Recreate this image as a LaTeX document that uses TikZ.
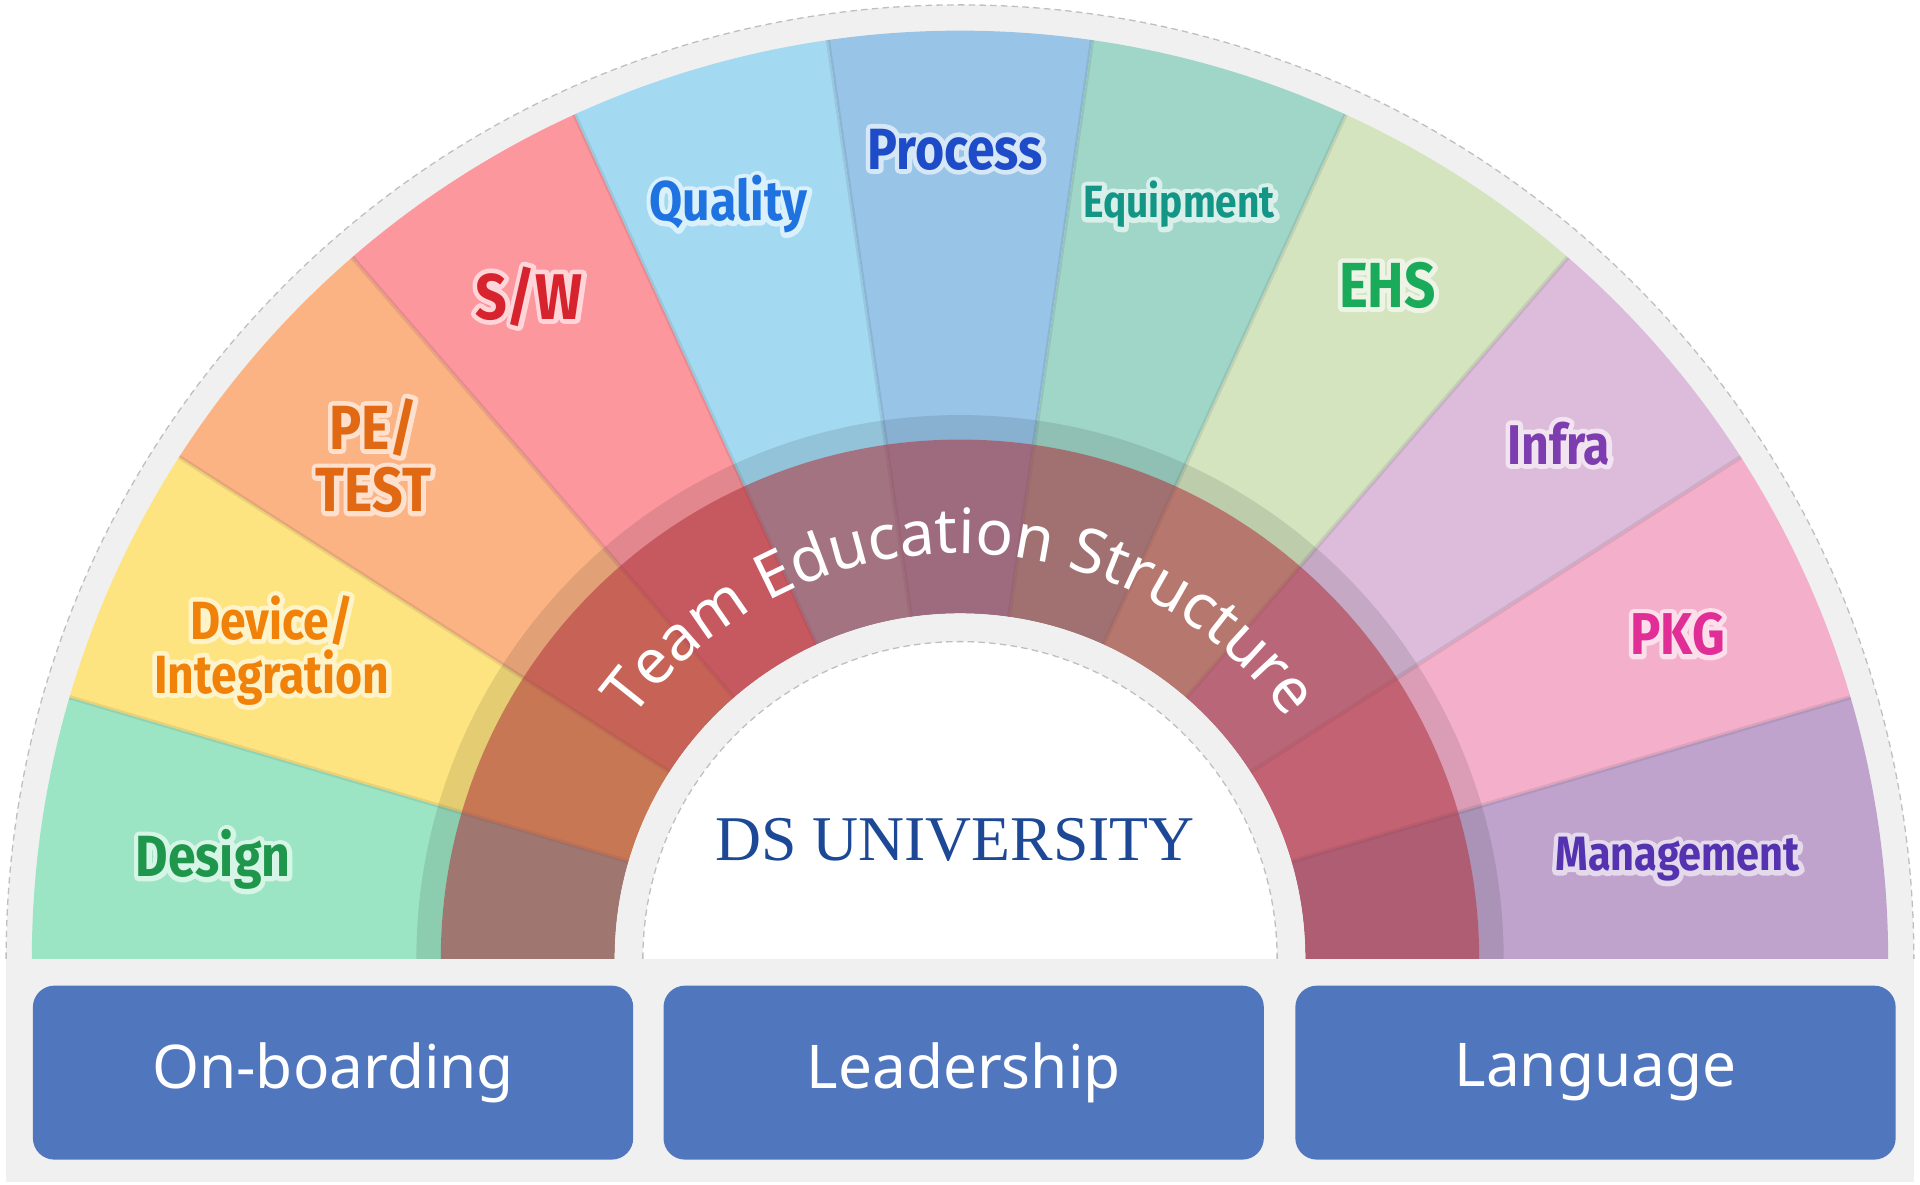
\documentclass[tikz,border=0pt]{standalone}
\usepackage{fontspec}
\setmainfont{Noto Sans}
\newfontfamily\labelfont[FakeStretch=0.86]{Fira Sans}
\newfontfamily\univfont{Liberation Serif}
\usetikzlibrary{decorations.text}

\definecolor{panelgray}{RGB}{240,240,240}
\definecolor{boxblue}{RGB}{80,119,190}
\definecolor{ringred}{RGB}{163,47,56}
\definecolor{univblue}{RGB}{28,72,150}
\definecolor{design}{RGB}{156,229,196}
\definecolor{device}{RGB}{253,228,128}
\definecolor{petest}{RGB}{251,179,131}
\definecolor{sw}{RGB}{252,151,158}
\definecolor{quality}{RGB}{163,218,242}
\definecolor{process}{RGB}{152,196,232}
\definecolor{equipment}{RGB}{160,214,200}
\definecolor{ehs}{RGB}{211,228,191}
\definecolor{infra}{RGB}{220,188,218}
\definecolor{pkg}{RGB}{244,175,203}
\definecolor{mgmt}{RGB}{191,163,204}
\definecolor{designText}{RGB}{30,150,75}
\definecolor{deviceText}{RGB}{240,130,10}
\definecolor{petestText}{RGB}{225,105,20}
\definecolor{swText}{RGB}{215,35,45}
\definecolor{qualityText}{RGB}{30,115,225}
\definecolor{processText}{RGB}{30,75,200}
\definecolor{equipmentText}{RGB}{20,150,135}
\definecolor{ehsText}{RGB}{25,170,90}
\definecolor{infraText}{RGB}{125,60,175}
\definecolor{pkgText}{RGB}{225,45,150}
\definecolor{mgmtText}{RGB}{85,50,175}

% stroked copy of the text under the filled one, as a soft halo
\newcommand\glow[2]{\leavevmode\rlap{\special{pdf:code q 1 Tr 2.2 w 1 J 1 j}\textcolor{white!60!#1}{#2}\special{pdf:code Q}}#2}

\tikzset{
  seglabel/.style={font=\labelfont\bfseries\fontsize{#1}{#1}\selectfont, align=center, inner sep=0pt},
  seglabel/.default=13,
  seam/.style={draw=black, opacity=0.08, line width=1pt},
  faint/.style={draw=black!25, dash pattern=on 1.5pt off 1pt, line width=0.3pt},
  topicbox/.style={fill=boxblue, rounded corners=5pt, minimum width=4.9cm, minimum height=1.42cm,
    inner sep=0pt, text=white, font=\fontsize{14}{16}\selectfont},
}

\begin{document}
\begin{tikzpicture}[x=0.01cm, y=0.01cm]
      \useasboundingbox (0,0) rectangle (1568,967);
      \fill[panelgray] (5,2) rectangle (1563,184);
      \begin{scope}[shift={(784,184)}]
        \fill[panelgray] (180:779) arc[start angle=180, end angle=0, radius=779] -- cycle;
        \draw[faint] (180:779) arc[start angle=180, end angle=0, radius=779];
        % segments
        \foreach \seg [count=\i from 0] in {design,device,petest,sw,quality,process,equipment,ehs,infra,pkg,mgmt}{
          \pgfmathsetmacro\a{180-\i*180/11}
          \pgfmathsetmacro\b{180-(\i+1)*180/11}
          \fill[fill=\seg] (\a:282) arc[start angle=\a, end angle=\b, radius=282]
            -- (\b:758) arc[start angle=\b, end angle=\a, radius=758] -- cycle;
        }
        \foreach \i in {1,...,10}{
          \pgfmathsetmacro\a{180-\i*180/11}
          \draw[seam] (\a:282) -- (\a:758);
        }
        % rings
        \fill[black, opacity=0.1] (180:444) arc[start angle=180, end angle=0, radius=444]
          -- (0:424) arc[start angle=0, end angle=180, radius=424] -- cycle;
        \fill[ringred, opacity=0.6] (180:424) arc[start angle=180, end angle=0, radius=424]
          -- (0:282) arc[start angle=0, end angle=180, radius=282] -- cycle;
        \fill[panelgray] (180:282) arc[start angle=180, end angle=0, radius=282] -- cycle;
        \fill[white] (180:259) arc[start angle=180, end angle=0, radius=259] -- cycle;
        \draw[faint] (180:259) arc[start angle=180, end angle=0, radius=259];
        \path[decorate, decoration={text along path, text align=center, text color=white,
            text={|\fontsize{14.5}{16}\selectfont|Team Education Structure}}]
          (150:331) arc[start angle=150, end angle=30, radius=331];
      \end{scope}
      \node[seglabel=13.5, text=designText] (design) at (174,265) {\glow{design}{Design}};
      \node[seglabel=12.5, text=deviceText] (device) at (222,436) {\glow{device}{Device/}\\\glow{device}{Integration}};
      \node[seglabel=14.5, text=petestText] (petest) at (305,595) {\glow{petest}{PE/}\\\glow{petest}{TEST}};
      \node[seglabel=15, text=swText] (sw) at (432,725) {\glow{sw}{S/W}};
      \node[seglabel=13, text=qualityText] (quality) at (595,800) {\glow{quality}{Quality}};
      \node[seglabel=13.5, text=processText] (process) at (780,845) {\glow{process}{Process}};
      \node[seglabel=10.5, text=equipmentText] (equipment) at (963,800) {\glow{equipment}{Equipment}};
      \node[seglabel=14.8, text=ehsText] (ehs) at (1133,734) {\glow{ehs}{EHS}};
      \node[seglabel=13, text=infraText] (infra) at (1273,605) {\glow{infra}{Infra}};
      \node[seglabel=13.7, text=pkgText] (pkg) at (1370,449) {\glow{pkg}{PKG}};
      \node[seglabel=11.2, text=mgmtText] (mgmt) at (1370,265) {\glow{mgmt}{Management}};
      \node[font=\univfont\fontsize{14.8}{16}\selectfont, text=univblue] (univ) at (780,281) {DS UNIVERSITY};
      \node[topicbox] (onboard) at (272,91) {On-boarding};
      \node[topicbox] (leader) at (787,91) {Leadership};
      \node[topicbox] (lang) at (1303,91) {Language};
\end{tikzpicture}
\end{document}
